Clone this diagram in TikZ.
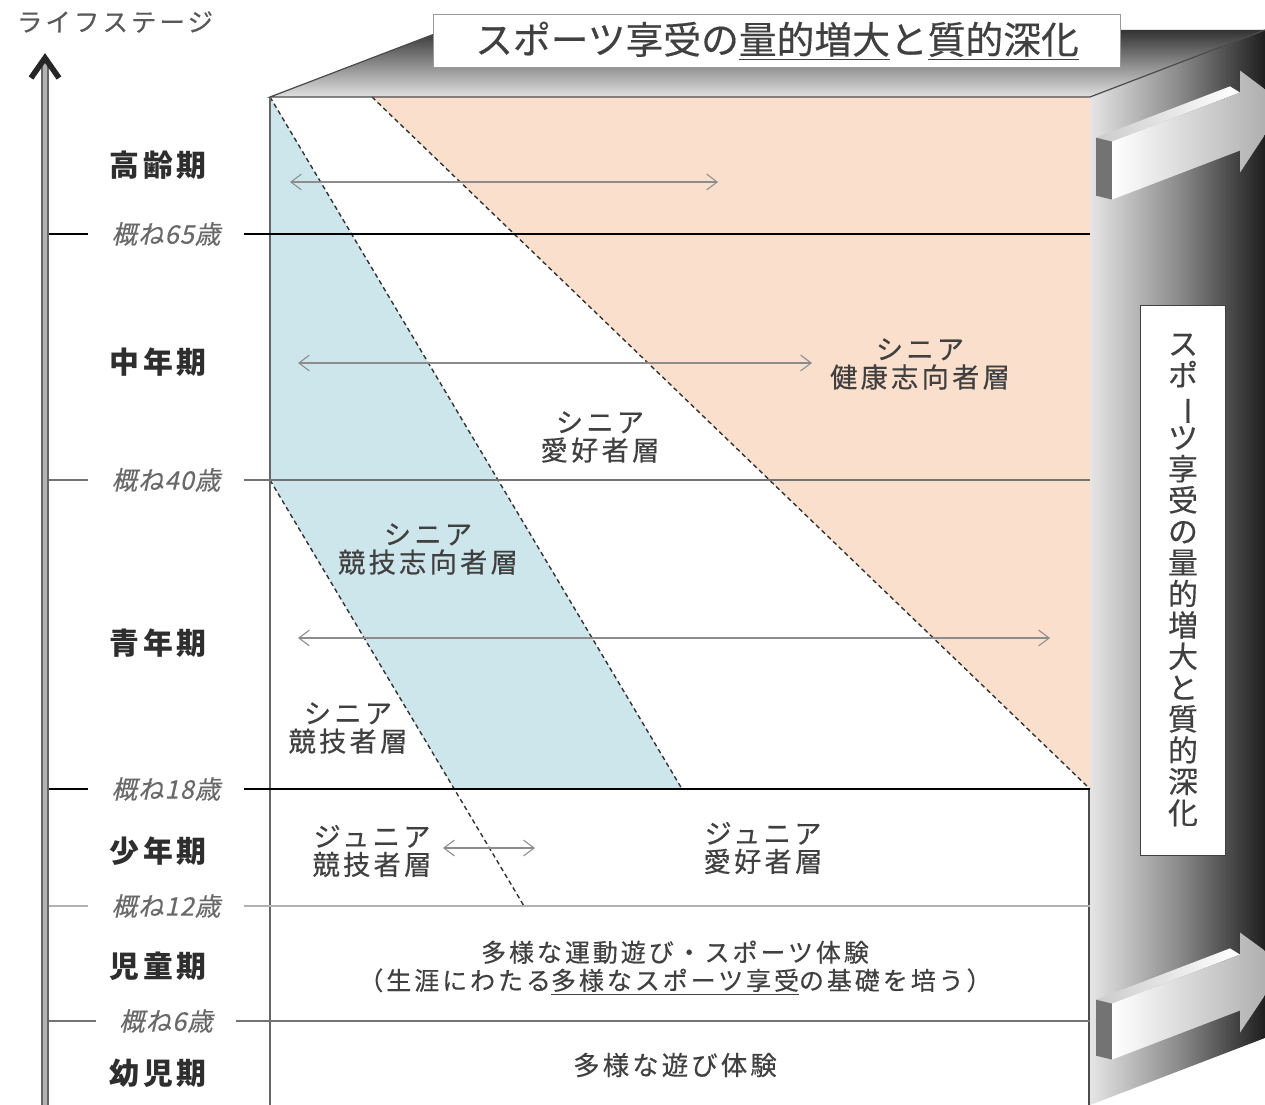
\documentclass[tikz,border=0pt]{standalone}
\usepackage{fontspec}
\usetikzlibrary{arrows.meta}
\newfontfamily\jp{Noto Sans CJK JP}[LetterSpace=12,FakeBold=0.4]
\newfontfamily\jpst{Noto Sans CJK JP}[LetterSpace=12]
\newfontfamily\jpn{Noto Sans CJK JP}[FakeBold=0.4]
\newfontfamily\jpsl{Noto Sans CJK JP}[FakeSlant=0.22,LetterSpace=4,FakeBold=0.3]
\definecolor{blue1}{RGB}{205,230,236}
\definecolor{orange1}{RGB}{250,223,204}
\definecolor{gray1}{RGB}{64,64,64}
\definecolor{gray2}{RGB}{105,105,105}

\begin{document}
\begin{tikzpicture}[x=0.02cm,y=-0.02cm,>={Straight Barb[length=6pt,width=9pt]},
    grp/.style={font=\jp\fontsize{15.5}{16}\selectfont,text=gray1,align=center,inner sep=1pt},
    stagelbl/.style={font=\jpst\bfseries\fontsize{17}{18}\selectfont,text=black!82},
    agelbl/.style={font=\jpsl\fontsize{14.5}{15}\selectfont,text=gray2,inner xsep=13pt},
    bound/.style={black!80,line width=0.8pt,dash pattern=on 2.6pt off 1.9pt},
    spanarrow/.style={<->,black!45,line width=0.6pt}]
    \useasboundingbox (0,0) rectangle (1265,1105);

    \shade[top color=black!80,bottom color=black!12] (270,97) coordinate(a) -- (445,30) coordinate(b) -- (1265,30) coordinate(c) -- (1090,97) coordinate(d) -- cycle;
    \begin{scope}[shift={(1090,0)},yslant=0.383]
      \shade[left color=black!10,right color=black!88,middle color=black!45] (0,97) rectangle (175,1105);
      \foreach \vt/\vb in {150/208,1012/1068}{
        \shade[left color=black!20,right color=white] (6,{\vt-10}) -- (140,{\vt-10}) -- (150,\vt) -- (22,\vt) -- cycle;
        \fill[black!55] (6,{\vt-10}) -- (22,\vt) -- (22,\vb) -- (6,{\vb-10}) -- cycle;
        \shade[left color=white,right color=black!35] (22,\vt) -- (150,\vt) -- (150,{\vt-22}) -- (195,{(\vt+\vb)/2}) -- (150,{\vb+22}) -- (150,\vb) -- (22,\vb) -- cycle;
      }
    \end{scope}

    \fill[white] (270,97) rectangle (1090,1105);
    \fill[orange1] (372,97) coordinate(e) -- (d) -- (1090,789) coordinate(f) -- cycle;
    \fill[blue1] (a) -- (682,789) coordinate(g) -- (454,789) -- (270,480) coordinate(h) -- cycle;
    \draw[bound] (a) -- (g);
    \draw[bound] (h) -- (524,906);
    \draw[bound] (e) -- (f);

    \draw[black!60,line width=0.8pt] (a) -- (270,1105);
    \draw[black!70,line width=1pt] (1089,789) -- (1089,1105);
    \draw[black!70,line width=0.7pt] (b) -- (a) -- (d) -- (c);

    \foreach \y/\age/\c/\w in {234/65/black/1.2pt,480/40/black!55/0.8pt,789/18/black/1.3pt,906/12/black!30/0.8pt,1021/6/black!55/0.8pt}{
      \node[agelbl] (age\age) at (166,\y) {概ね\age 歳};
      \draw[draw=\c,line width=\w] (45,\y) -- (age\age.west) (age\age.east) -- (1090,\y);
    }
    \foreach \y/\stg [count=\i] in {165/高齢期,362/中年期,643/青年期,851/少年期,966/児童期,1073/幼児期}
      \node[stagelbl] (st\i) at (158,\y) {\stg};

    \node[grp] (sk) at (920,364) {シニア\\健康志向者層};
    \node[grp] (sa) at (600,437) {シニア\\愛好者層};
    \node[grp] (ssk) at (428,549) {シニア\\競技志向者層};
    \node[grp] (sc) at (348,728) {シニア\\競技者層};
    \node[grp] (jc) at (372,851) {ジュニア\\競技者層};
    \node[grp] (ja) at (763,848) {ジュニア\\愛好者層};
    \node[grp,font=\jp\fontsize{14.2}{16}\selectfont] (tk) at (675,968) {多様な運動遊び・スポーツ体験\\（生涯にわたる\underline{多様なスポーツ享受}の基礎を培う）};
    \node[grp,font=\jp\fontsize{15}{16}\selectfont] (as) at (675,1065) {多様な遊び体験};

    \foreach \x/\xx/\y [count=\i] in {290/718/182,298/812/363,298/1050/638,443/535/848}
      \draw[spanarrow] (\x,\y) coordinate(l\i) -- (\xx,\y) coordinate(r\i);

    \node[draw=black!40,fill=white,minimum width=13.74cm,minimum height=1.06cm,font=\jpn\fontsize{21.5}{22}\selectfont,text=gray1] (title) at (777,41) {スポーツ享受の\underline{量的増大}と\underline{質的深化}};
    \node[draw=black!75,fill=white,minimum width=1.7cm,minimum height=11cm,inner sep=0pt,align=center,font=\jpn\fontsize{17}{17.8}\selectfont,text=gray1] (vtitle) at (1183,580) {ス\\ポ\\\rotatebox[origin=c]{-90}{ー}\\ツ\\享\\受\\の\\量\\的\\増\\大\\と\\質\\的\\深\\化};

    \node[font=\jp\fontsize{14.5}{16}\selectfont,text=black!65] (ls) at (115,22) {ライフステージ};
    \coordinate (ax0) at (45,1105);
    \coordinate (ax1) at (45,58);
    \draw[line width=4.6pt,black!60] (ax0) -- (ax1);
    \draw[line width=1.8pt,black!30] (ax0) -- (ax1);
    \draw[line width=3.2pt,black!85] (31,78) -- (ax1) -- (59,78);

  \end{tikzpicture}
\end{document}
